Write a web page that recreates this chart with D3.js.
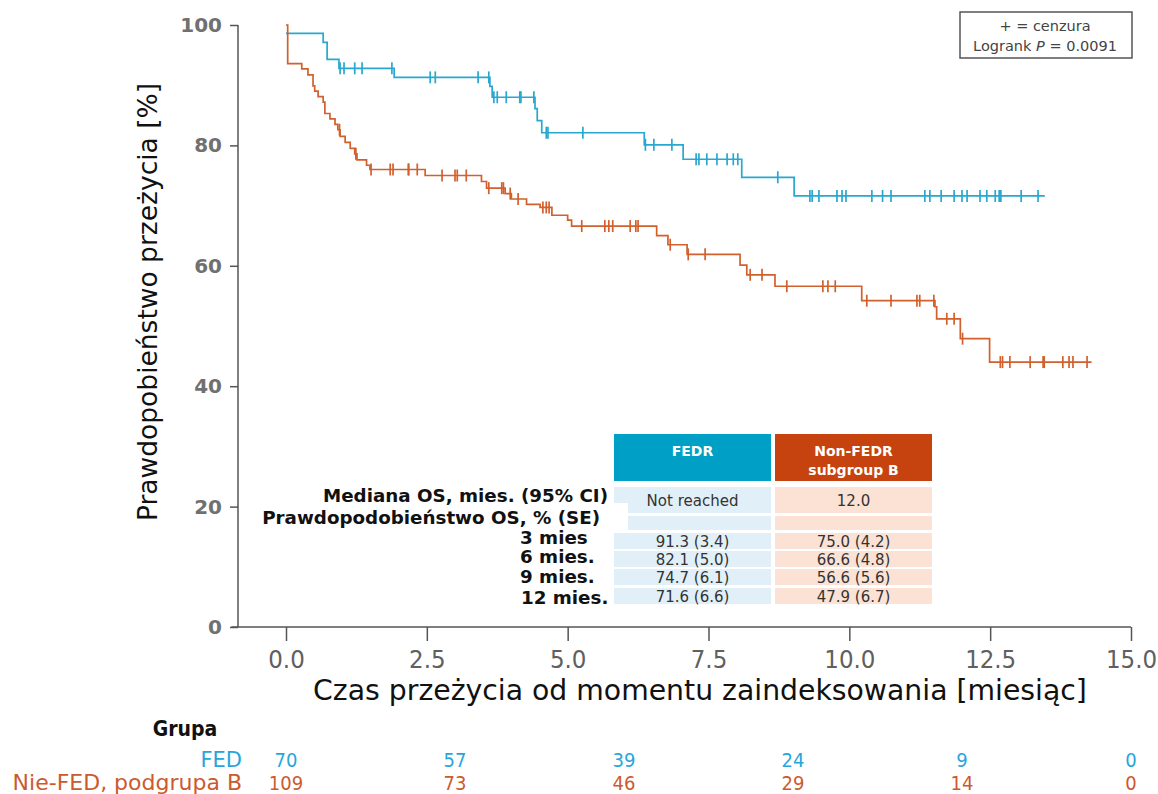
<!DOCTYPE html>
<html>
<head>
<meta charset="utf-8">
<script src="https://cdn.jsdelivr.net/npm/d3@7"></script>
<style>
  body { margin: 0; background: #fff; }
  svg { display: block; }
</style>
</head>
<body>
<svg id="km"></svg>
<script>
// Kaplan-Meier steps: [time in months, survival %]
const fedSteps = [[0, 98.6], [0.66, 97.1], [0.73, 94.3], [0.94, 92.8], [1.92, 91.3], [3.62, 89.8], [3.66, 88.0],
  [4.42, 86.1], [4.46, 84.1], [4.54, 82.1], [6.36, 80.1], [7.05, 77.7], [8.09, 74.7], [9.02, 71.6], [13.47, 71.6]];
const nonSteps = [[0, 100], [0.03, 93.6], [0.28, 92.7], [0.39, 91.7], [0.48, 89.9], [0.51, 89.0], [0.57, 88.1],
  [0.66, 87.2], [0.69, 85.3], [0.78, 84.4], [0.87, 83.5], [0.92, 82.6], [0.96, 81.5], [1.05, 80.5], [1.14, 79.5],
  [1.22, 78.6], [1.26, 77.6], [1.43, 76.7], [1.49, 76.0], [2.47, 75.0], [3.47, 74.0], [3.56, 72.9], [3.89, 72.0],
  [4.0, 71.1], [4.27, 70.2], [4.51, 69.7], [4.72, 68.4], [5.0, 67.6], [5.07, 66.6], [6.58, 65.0], [6.78, 63.5],
  [7.12, 61.9], [8.06, 60.1], [8.18, 58.5], [8.68, 56.6], [10.22, 54.2], [11.52, 53.2], [11.55, 51.2],
  [11.97, 47.9], [12.49, 44.0], [14.3, 44.0]];

// censored observations (months)
const fedCensor = [0.96, 1.03, 1.22, 1.35, 1.88, 2.56, 2.65, 3.41, 3.60, 3.69, 3.75, 3.91, 4.15, 4.17, 4.40,
  4.62, 4.65, 5.27, 6.38, 6.53, 6.85, 7.28, 7.33, 7.47, 7.65, 7.83, 7.94, 8.02, 8.73, 9.30, 9.34, 9.46, 9.78,
  9.87, 9.94, 10.40, 10.59, 10.74, 11.34, 11.43, 11.63, 11.86, 12.00, 12.09, 12.32, 12.44, 12.59, 12.66, 12.69,
  13.05, 13.35];
const nonCensor = [0.95, 1.24, 1.51, 1.85, 1.90, 2.17, 2.18, 2.33, 2.77, 3.0, 3.04, 3.20, 3.60, 3.83, 3.86,
  3.98, 4.12, 4.56, 4.62, 4.67, 5.25, 5.66, 5.73, 5.80, 6.11, 6.21, 6.25, 6.82, 7.14, 7.44, 8.24, 8.45, 8.89,
  9.53, 9.62, 9.75, 10.31, 10.74, 11.20, 11.25, 11.50, 11.73, 11.86, 12.01, 12.68, 12.72, 12.85, 13.21, 13.44,
  13.46, 13.79, 13.90, 13.97, 14.22];

const xTicks = [0, 2.5, 5, 7.5, 10, 12.5, 15];
const yTicks = [0, 20, 40, 60, 80, 100];

// numbers at risk
const riskTimes = [0, 3, 6, 9, 12, 15];
const fedRisk = [70, 57, 39, 24, 9, 0];
const nonRisk = [109, 73, 46, 29, 14, 0];

// summary table
const tableHeads = ["FEDR", "Non-FEDR\nsubgroup B"];
const rowLabels = ["Mediana OS, mies. (95% CI)", "Prawdopodobieństwo OS, % (SE)", "3 mies", "6 mies.", "9 mies.", "12 mies."];
const fedCells = ["Not reached", "", "91.3 (3.4)", "82.1 (5.0)", "74.7 (6.1)", "71.6 (6.6)"];
const nonCells = ["12.0", "", "75.0 (4.2)", "66.6 (4.8)", "56.6 (5.6)", "47.9 (6.7)"];

const blue = "#28a8d0", orange = "#d2602c";
const width = 1158, height = 794;

const svg = d3.select("#km")
    .attr("width", width)
    .attr("height", height)
    .attr("viewBox", [0, 0, width, height])
    .style("font-family", "'DejaVu Sans', sans-serif");

const x = d3.scaleLinear().domain([0, 15]).range([286, 1131]);
const y = d3.scaleLinear().domain([0, 100]).range([627, 25]);

// y axis
svg.append("g")
    .attr("transform", `translate(238,0)`)
    .call(d3.axisLeft(y).tickValues(yTicks).tickSize(8).tickPadding(8))
    .call(g => {
        g.select(".domain").attr("stroke", "#555").attr("stroke-width", 1.5).attr("d", `M-0,${y(100)}V${y(0)}`);
        g.selectAll(".tick line").attr("stroke", "#555").attr("stroke-width", 1.5);
        g.selectAll(".tick text")
            .attr("fill", "#707070")
            .attr("font-size", 20)
            .attr("font-weight", "bold")
            .attr("font-family", "'DejaVu Sans', sans-serif");
    });

// x axis
svg.append("g")
    .attr("transform", `translate(0,${y(0)})`)
    .call(d3.axisBottom(x).tickValues(xTicks).tickFormat(d3.format(".1f")).tickSize(14).tickPadding(9))
    .call(g => {
        g.select(".domain").attr("stroke", "#555").attr("stroke-width", 1.5).attr("d", `M${x(-0.97)},0H${x(15)}`);
        g.selectAll(".tick line").attr("stroke", "#555").attr("stroke-width", 1.5);
        g.selectAll(".tick text")
            .attr("fill", "#606060")
            .attr("font-size", 25.5)
            .attr("font-family", "'DejaVu Sans Condensed', 'DejaVu Sans', sans-serif")
            .attr("font-stretch", "condensed");
    });

svg.append("text")
    .attr("x", 700)
    .attr("y", 700)
    .attr("text-anchor", "middle")
    .attr("font-size", 28.3)
    .attr("fill", "#111")
    .text("Czas przeżycia od momentu zaindeksowania [miesiąc]");

svg.append("text")
    .attr("transform", `translate(157,${(y(100) + y(0)) / 2 - 24}) rotate(-90)`)
    .attr("text-anchor", "middle")
    .attr("font-size", 26.5)
    .attr("fill", "#111")
    .text("Prawdopobieństwo przeżycia [%]");

// curves
const stepLine = d3.line()
    .x(d => x(d[0]))
    .y(d => y(d[1]))
    .curve(d3.curveStepAfter);

function survAt(steps, t) {
    let s = steps[0][1];
    for (const [tt, v] of steps) { if (tt <= t) s = v; }
    return s;
}

function drawGroup(steps, censor, color) {
    svg.append("path")
        .datum(steps)
        .attr("fill", "none")
        .attr("stroke", color)
        .attr("stroke-width", 1.7)
        .attr("d", stepLine);
    svg.append("g")
        .selectAll("line")
        .data(censor)
        .join("line")
        .attr("x1", d => x(d))
        .attr("x2", d => x(d))
        .attr("y1", d => y(survAt(steps, d)) - 6)
        .attr("y2", d => y(survAt(steps, d)) + 6)
        .attr("stroke", color)
        .attr("stroke-width", 1.7);
}

drawGroup(fedSteps, fedCensor, blue);
drawGroup(nonSteps, nonCensor, orange);

// legend box
const leg = svg.append("g");
leg.append("rect")
    .attr("x", 960).attr("y", 12).attr("width", 172).attr("height", 46)
    .attr("fill", "#fff").attr("stroke", "#555").attr("stroke-width", 1.5);
leg.append("text")
    .attr("x", 1045).attr("y", 31).attr("text-anchor", "middle")
    .attr("font-size", 14.5).attr("fill", "#444")
    .text("+ = cenzura");
const lt = leg.append("text")
    .attr("x", 1045).attr("y", 51).attr("text-anchor", "middle")
    .attr("font-size", 14.5).attr("fill", "#444");
lt.append("tspan").text("Logrank ");
lt.append("tspan").attr("font-style", "italic").text("P");
lt.append("tspan").text(" = 0.0091");

// summary table
const colX = [614, 775], colW = 157;
const rowTop = [487, 516, 533, 551, 569, 588];
const rowH = [26, 14, 16, 16, 16, 16];
const headFill = ["#00a0c6", "#c6420e"];
const cellFill = ["#e1f0f8", "#fbe2d4"];

const tbl = svg.append("g");
tableHeads.forEach((h, i) => {
    tbl.append("rect")
        .attr("x", colX[i]).attr("y", 434).attr("width", colW).attr("height", 47)
        .attr("fill", headFill[i]);
    const lines = h.split("\n");
    lines.forEach((l, j) => {
        tbl.append("text")
            .attr("x", colX[i] + colW / 2)
            .attr("y", 456 + j * 19)
            .attr("text-anchor", "middle")
            .attr("font-size", 14).attr("font-weight", "bold").attr("fill", "#fff")
            .text(l);
    });
});

[fedCells, nonCells].forEach((cells, i) => {
    cells.forEach((c, r) => {
        tbl.append("rect")
            .attr("x", colX[i]).attr("y", rowTop[r]).attr("width", colW).attr("height", rowH[r])
            .attr("fill", cellFill[i]);
        tbl.append("text")
            .attr("x", colX[i] + colW / 2)
            .attr("y", rowTop[r] + rowH[r] / 2 + 5.5)
            .attr("text-anchor", "middle")
            .attr("font-size", 15).attr("fill", "#333")
            .text(c);
    });
});

// row labels (white patch behind the SE label as in the source)
tbl.append("rect").attr("x", 560).attr("y", 503).attr("width", 68).attr("height", 28).attr("fill", "#fff");
const labelPos = [[608, 502, "end"], [600, 524, "end"], [520, 544, "start"], [520, 563, "start"], [520, 583, "start"], [521, 604, "start"]];
rowLabels.forEach((l, i) => {
    tbl.append("text")
        .attr("x", labelPos[i][0]).attr("y", labelPos[i][1])
        .attr("text-anchor", labelPos[i][2])
        .attr("font-size", 18.3).attr("font-weight", "bold").attr("fill", "#111")
        .text(l);
});

// numbers at risk
const risk = svg.append("g")
    .attr("font-family", "'DejaVu Sans Condensed', 'DejaVu Sans', sans-serif")
    .attr("font-stretch", "condensed")
    .attr("font-size", 20);
risk.append("text").attr("x", 185).attr("y", 736).attr("text-anchor", "middle")
    .attr("font-size", 21).attr("font-weight", "bold").attr("fill", "#111").text("Grupa");
risk.append("text").attr("x", 242).attr("y", 767).attr("text-anchor", "end")
    .attr("font-family", "'DejaVu Sans', sans-serif").attr("font-stretch", "normal")
    .attr("font-size", 21).attr("fill", "#27a6db").text("FED");
risk.append("text").attr("x", 242).attr("y", 790).attr("text-anchor", "end")
    .attr("font-family", "'DejaVu Sans', sans-serif").attr("font-stretch", "normal")
    .attr("font-size", 22).attr("fill", "#cc5a2e").text("Nie-FED, podgrupa B");
risk.selectAll(".fed").data(fedRisk).join("text")
    .attr("class", "fed")
    .attr("x", (d, i) => x(riskTimes[i]))
    .attr("y", 767)
    .attr("text-anchor", "middle")
    .attr("fill", "#27a6db")
    .text(d => d);
risk.selectAll(".non").data(nonRisk).join("text")
    .attr("class", "non")
    .attr("x", (d, i) => x(riskTimes[i]))
    .attr("y", 790)
    .attr("text-anchor", "middle")
    .attr("fill", "#cc5a2e")
    .text(d => d);
</script>
</body>
</html>
